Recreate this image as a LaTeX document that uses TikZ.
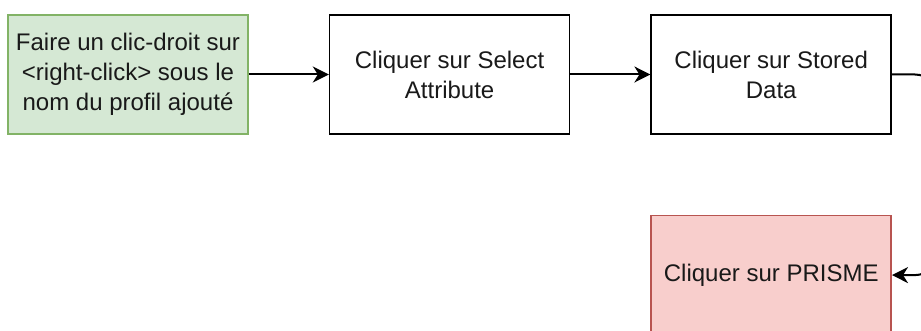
\documentclass[tikz,border=0pt]{standalone}
\usepackage{fontspec}
\setmainfont{Liberation Sans}
\usepackage{xcolor}
\usetikzlibrary{arrows.meta, positioning}

\definecolor{greenfill}{HTML}{D5E8D4}
\definecolor{greenline}{HTML}{82B366}
\definecolor{redfill}{HTML}{F8CECC}
\definecolor{redline}{HTML}{B85450}

\begin{document}
\begin{tikzpicture}[x=1pt, y=1pt,
    box/.style={rectangle, draw, line width=1.6pt, minimum width=240pt, minimum height=119pt,
      align=center, font=\fontsize{24}{30}\selectfont, text=black!90},
    arr/.style={line width=2pt, -{Stealth[length=16pt, width=16pt, inset=5pt]}}]
          \useasboundingbox (0,0) rectangle (921,-331);

          \node[box, fill=greenfill, draw=greenline] (clic) at (128,-74.5) {Faire un clic-droit sur\\<right-click> sous le\\nom du profil ajouté};
          \node[box, right=80pt of clic] (select) {Cliquer sur Select\\Attribute};
          \node[box, right=80pt of select] (stored) {Cliquer sur Stored\\Data};
          \node[box, fill=redfill, draw=redline, below=80pt of stored] (prisme) {Cliquer sur PRISME};

          \draw[arr] (clic) -- (select);
          \draw[arr] (select) -- (stored);
          % goes out on the right and comes back into the last step
          \draw[arr, rounded corners=22pt] (stored.east) -- ++(45pt,0) |- (prisme.east);
        \end{tikzpicture}
\end{document}
